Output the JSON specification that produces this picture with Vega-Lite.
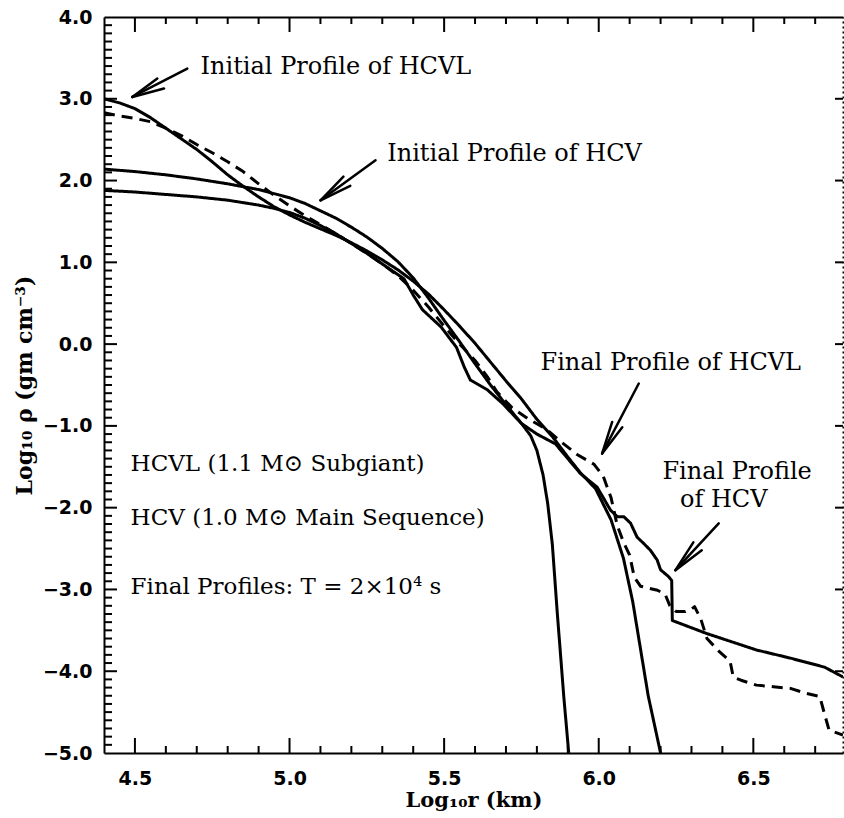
{
  "$schema": "https://vega.github.io/schema/vega-lite/v6.json",
  "width": 739,
  "height": 736,
  "autosize": {"type": "none"},
  "padding": {"left": 104, "top": 17, "right": 1, "bottom": 65},
  "background": "white",
  "config": {
    "view": {"stroke": null},
    "axis": {
      "grid": false,
      "domainColor": "black",
      "labelColor": "black",
      "titleColor": "black",
      "domainWidth": 2,
      "labelFlush": false,
      "labelOverlap": false,
      "labelBound": false
    }
  },
  "datasets": {
    "profiles": [
      {"s": "Initial HCVL", "x": 4.40, "y": 3.00},
      {"s": "Initial HCVL", "x": 4.45, "y": 2.95},
      {"s": "Initial HCVL", "x": 4.50, "y": 2.88},
      {"s": "Initial HCVL", "x": 4.55, "y": 2.77},
      {"s": "Initial HCVL", "x": 4.60, "y": 2.64},
      {"s": "Initial HCVL", "x": 4.65, "y": 2.51},
      {"s": "Initial HCVL", "x": 4.70, "y": 2.38},
      {"s": "Initial HCVL", "x": 4.75, "y": 2.23},
      {"s": "Initial HCVL", "x": 4.80, "y": 2.07},
      {"s": "Initial HCVL", "x": 4.85, "y": 1.93},
      {"s": "Initial HCVL", "x": 4.90, "y": 1.80},
      {"s": "Initial HCVL", "x": 4.95, "y": 1.68},
      {"s": "Initial HCVL", "x": 5.00, "y": 1.58},
      {"s": "Initial HCVL", "x": 5.05, "y": 1.49},
      {"s": "Initial HCVL", "x": 5.10, "y": 1.41},
      {"s": "Initial HCVL", "x": 5.15, "y": 1.33},
      {"s": "Initial HCVL", "x": 5.20, "y": 1.24},
      {"s": "Initial HCVL", "x": 5.25, "y": 1.14},
      {"s": "Initial HCVL", "x": 5.30, "y": 1.03},
      {"s": "Initial HCVL", "x": 5.35, "y": 0.91},
      {"s": "Initial HCVL", "x": 5.40, "y": 0.77},
      {"s": "Initial HCVL", "x": 5.45, "y": 0.61},
      {"s": "Initial HCVL", "x": 5.50, "y": 0.42},
      {"s": "Initial HCVL", "x": 5.55, "y": 0.22},
      {"s": "Initial HCVL", "x": 5.60, "y": 0.01},
      {"s": "Initial HCVL", "x": 5.65, "y": -0.22},
      {"s": "Initial HCVL", "x": 5.70, "y": -0.45},
      {"s": "Initial HCVL", "x": 5.75, "y": -0.67},
      {"s": "Initial HCVL", "x": 5.80, "y": -0.92},
      {"s": "Initial HCVL", "x": 5.85, "y": -1.13},
      {"s": "Initial HCVL", "x": 5.90, "y": -1.38},
      {"s": "Initial HCVL", "x": 5.94, "y": -1.57},
      {"s": "Initial HCVL", "x": 5.99, "y": -1.77},
      {"s": "Initial HCVL", "x": 6.04, "y": -2.15},
      {"s": "Initial HCVL", "x": 6.08, "y": -2.62},
      {"s": "Initial HCVL", "x": 6.11, "y": -3.15},
      {"s": "Initial HCVL", "x": 6.16, "y": -4.30},
      {"s": "Initial HCVL", "x": 6.20, "y": -5.00},

      {"s": "Initial HCV", "x": 4.40, "y": 2.14},
      {"s": "Initial HCV", "x": 4.50, "y": 2.11},
      {"s": "Initial HCV", "x": 4.60, "y": 2.07},
      {"s": "Initial HCV", "x": 4.70, "y": 2.02},
      {"s": "Initial HCV", "x": 4.80, "y": 1.96},
      {"s": "Initial HCV", "x": 4.90, "y": 1.89},
      {"s": "Initial HCV", "x": 4.95, "y": 1.84},
      {"s": "Initial HCV", "x": 5.00, "y": 1.79},
      {"s": "Initial HCV", "x": 5.05, "y": 1.72},
      {"s": "Initial HCV", "x": 5.10, "y": 1.63},
      {"s": "Initial HCV", "x": 5.15, "y": 1.54},
      {"s": "Initial HCV", "x": 5.20, "y": 1.43},
      {"s": "Initial HCV", "x": 5.25, "y": 1.31},
      {"s": "Initial HCV", "x": 5.30, "y": 1.17},
      {"s": "Initial HCV", "x": 5.35, "y": 1.01},
      {"s": "Initial HCV", "x": 5.40, "y": 0.81},
      {"s": "Initial HCV", "x": 5.45, "y": 0.56},
      {"s": "Initial HCV", "x": 5.50, "y": 0.29},
      {"s": "Initial HCV", "x": 5.55, "y": 0.03},
      {"s": "Initial HCV", "x": 5.60, "y": -0.24},
      {"s": "Initial HCV", "x": 5.65, "y": -0.50},
      {"s": "Initial HCV", "x": 5.70, "y": -0.74},
      {"s": "Initial HCV", "x": 5.75, "y": -0.97},
      {"s": "Initial HCV", "x": 5.78, "y": -1.12},
      {"s": "Initial HCV", "x": 5.80, "y": -1.30},
      {"s": "Initial HCV", "x": 5.82, "y": -1.60},
      {"s": "Initial HCV", "x": 5.835, "y": -1.95},
      {"s": "Initial HCV", "x": 5.85, "y": -2.45},
      {"s": "Initial HCV", "x": 5.866, "y": -3.29},
      {"s": "Initial HCV", "x": 5.887, "y": -4.31},
      {"s": "Initial HCV", "x": 5.903, "y": -5.00},

      {"s": "Final HCVL", "x": 4.40, "y": 2.83},
      {"s": "Final HCVL", "x": 4.45, "y": 2.79},
      {"s": "Final HCVL", "x": 4.50, "y": 2.76},
      {"s": "Final HCVL", "x": 4.55, "y": 2.72},
      {"s": "Final HCVL", "x": 4.60, "y": 2.64},
      {"s": "Final HCVL", "x": 4.65, "y": 2.55},
      {"s": "Final HCVL", "x": 4.70, "y": 2.44},
      {"s": "Final HCVL", "x": 4.75, "y": 2.34},
      {"s": "Final HCVL", "x": 4.80, "y": 2.23},
      {"s": "Final HCVL", "x": 4.85, "y": 2.11},
      {"s": "Final HCVL", "x": 4.90, "y": 1.96},
      {"s": "Final HCVL", "x": 4.95, "y": 1.82},
      {"s": "Final HCVL", "x": 5.00, "y": 1.69},
      {"s": "Final HCVL", "x": 5.05, "y": 1.57},
      {"s": "Final HCVL", "x": 5.10, "y": 1.46},
      {"s": "Final HCVL", "x": 5.15, "y": 1.35},
      {"s": "Final HCVL", "x": 5.20, "y": 1.23},
      {"s": "Final HCVL", "x": 5.25, "y": 1.11},
      {"s": "Final HCVL", "x": 5.30, "y": 0.98},
      {"s": "Final HCVL", "x": 5.35, "y": 0.84},
      {"s": "Final HCVL", "x": 5.40, "y": 0.66},
      {"s": "Final HCVL", "x": 5.45, "y": 0.45},
      {"s": "Final HCVL", "x": 5.50, "y": 0.22},
      {"s": "Final HCVL", "x": 5.55, "y": 0.00},
      {"s": "Final HCVL", "x": 5.60, "y": -0.20},
      {"s": "Final HCVL", "x": 5.64, "y": -0.40},
      {"s": "Final HCVL", "x": 5.67, "y": -0.58},
      {"s": "Final HCVL", "x": 5.72, "y": -0.78},
      {"s": "Final HCVL", "x": 5.77, "y": -0.91},
      {"s": "Final HCVL", "x": 5.83, "y": -1.04},
      {"s": "Final HCVL", "x": 5.88, "y": -1.20},
      {"s": "Final HCVL", "x": 5.93, "y": -1.35},
      {"s": "Final HCVL", "x": 5.985, "y": -1.47},
      {"s": "Final HCVL", "x": 6.015, "y": -1.62},
      {"s": "Final HCVL", "x": 6.04, "y": -1.88},
      {"s": "Final HCVL", "x": 6.06, "y": -2.22},
      {"s": "Final HCVL", "x": 6.08, "y": -2.42},
      {"s": "Final HCVL", "x": 6.10, "y": -2.58},
      {"s": "Final HCVL", "x": 6.115, "y": -2.85},
      {"s": "Final HCVL", "x": 6.135, "y": -2.96},
      {"s": "Final HCVL", "x": 6.157, "y": -2.98},
      {"s": "Final HCVL", "x": 6.19, "y": -3.01},
      {"s": "Final HCVL", "x": 6.215, "y": -3.06},
      {"s": "Final HCVL", "x": 6.23, "y": -3.20},
      {"s": "Final HCVL", "x": 6.25, "y": -3.27},
      {"s": "Final HCVL", "x": 6.28, "y": -3.27},
      {"s": "Final HCVL", "x": 6.30, "y": -3.24},
      {"s": "Final HCVL", "x": 6.31, "y": -3.21},
      {"s": "Final HCVL", "x": 6.33, "y": -3.36},
      {"s": "Final HCVL", "x": 6.35, "y": -3.60},
      {"s": "Final HCVL", "x": 6.39, "y": -3.76},
      {"s": "Final HCVL", "x": 6.425, "y": -3.88},
      {"s": "Final HCVL", "x": 6.435, "y": -4.07},
      {"s": "Final HCVL", "x": 6.46, "y": -4.11},
      {"s": "Final HCVL", "x": 6.51, "y": -4.17},
      {"s": "Final HCVL", "x": 6.565, "y": -4.19},
      {"s": "Final HCVL", "x": 6.62, "y": -4.21},
      {"s": "Final HCVL", "x": 6.67, "y": -4.27},
      {"s": "Final HCVL", "x": 6.715, "y": -4.31},
      {"s": "Final HCVL", "x": 6.73, "y": -4.52},
      {"s": "Final HCVL", "x": 6.745, "y": -4.72},
      {"s": "Final HCVL", "x": 6.79, "y": -4.78},

      {"s": "Final HCV", "x": 4.40, "y": 1.88},
      {"s": "Final HCV", "x": 4.50, "y": 1.86},
      {"s": "Final HCV", "x": 4.60, "y": 1.83},
      {"s": "Final HCV", "x": 4.70, "y": 1.80},
      {"s": "Final HCV", "x": 4.80, "y": 1.76},
      {"s": "Final HCV", "x": 4.90, "y": 1.70},
      {"s": "Final HCV", "x": 4.95, "y": 1.66},
      {"s": "Final HCV", "x": 5.00, "y": 1.61},
      {"s": "Final HCV", "x": 5.05, "y": 1.54},
      {"s": "Final HCV", "x": 5.10, "y": 1.45},
      {"s": "Final HCV", "x": 5.15, "y": 1.35},
      {"s": "Final HCV", "x": 5.20, "y": 1.23},
      {"s": "Final HCV", "x": 5.25, "y": 1.11},
      {"s": "Final HCV", "x": 5.30, "y": 0.98},
      {"s": "Final HCV", "x": 5.37, "y": 0.80},
      {"s": "Final HCV", "x": 5.40, "y": 0.60},
      {"s": "Final HCV", "x": 5.43, "y": 0.42},
      {"s": "Final HCV", "x": 5.49, "y": 0.21},
      {"s": "Final HCV", "x": 5.54, "y": -0.04},
      {"s": "Final HCV", "x": 5.565, "y": -0.28},
      {"s": "Final HCV", "x": 5.585, "y": -0.44},
      {"s": "Final HCV", "x": 5.64, "y": -0.56},
      {"s": "Final HCV", "x": 5.69, "y": -0.73},
      {"s": "Final HCV", "x": 5.75, "y": -0.97},
      {"s": "Final HCV", "x": 5.80, "y": -1.10},
      {"s": "Final HCV", "x": 5.86, "y": -1.22},
      {"s": "Final HCV", "x": 5.90, "y": -1.40},
      {"s": "Final HCV", "x": 5.94, "y": -1.58},
      {"s": "Final HCV", "x": 5.995, "y": -1.75},
      {"s": "Final HCV", "x": 6.038, "y": -2.03},
      {"s": "Final HCV", "x": 6.06, "y": -2.11},
      {"s": "Final HCV", "x": 6.081, "y": -2.11},
      {"s": "Final HCV", "x": 6.103, "y": -2.19},
      {"s": "Final HCV", "x": 6.124, "y": -2.36},
      {"s": "Final HCV", "x": 6.146, "y": -2.44},
      {"s": "Final HCV", "x": 6.167, "y": -2.52},
      {"s": "Final HCV", "x": 6.189, "y": -2.64},
      {"s": "Final HCV", "x": 6.20, "y": -2.76},
      {"s": "Final HCV", "x": 6.225, "y": -2.84},
      {"s": "Final HCV", "x": 6.236, "y": -2.89},
      {"s": "Final HCV", "x": 6.238, "y": -3.38},
      {"s": "Final HCV", "x": 6.35, "y": -3.54},
      {"s": "Final HCV", "x": 6.51, "y": -3.74},
      {"s": "Final HCV", "x": 6.62, "y": -3.84},
      {"s": "Final HCV", "x": 6.73, "y": -3.95},
      {"s": "Final HCV", "x": 6.76, "y": -4.01},
      {"s": "Final HCV", "x": 6.79, "y": -4.07}
    ],
    "shafts": [
      {"x": 4.4916, "y": 3.022, "x2": 4.6694, "y2": 3.369},
      {"x": 5.1004, "y": 1.759, "x2": 5.2782, "y2": 2.248},
      {"x": 6.0111, "y": -1.337, "x2": 6.1295, "y2": -0.482},
      {"x": 6.2481, "y": -2.764, "x2": 6.3881, "y2": -2.193}
    ],
    "heads": [
      {"x": 4.4916, "y": 3.022, "x2": 4.5724, "y2": 3.247},
      {"x": 4.4916, "y": 3.022, "x2": 4.5938, "y2": 3.125},
      {"x": 5.1004, "y": 1.759, "x2": 5.1964, "y2": 1.936},
      {"x": 5.1004, "y": 1.759, "x2": 5.1744, "y2": 2.049},
      {"x": 6.0111, "y": -1.337, "x2": 6.0762, "y2": -1.018},
      {"x": 6.0111, "y": -1.337, "x2": 6.0435, "y2": -0.952},
      {"x": 6.2481, "y": -2.764, "x2": 6.3332, "y2": -2.521},
      {"x": 6.2481, "y": -2.764, "x2": 6.3060, "y2": -2.425}
    ],
    "labels": [
      {"t": "Initial Profile of HCVL", "x": 4.7124, "y": 3.385},
      {"t": "Initial Profile of HCV", "x": 5.316, "y": 2.33},
      {"t": "Final Profile of HCVL", "x": 5.8117, "y": -0.237}
    ],
    "notes": [
      {"t": "HCVL (1.1 M⊙ Subgiant)", "x": 4.486, "y": -1.46},
      {"t": "HCV (1.0 M⊙ Main Sequence)", "x": 4.486, "y": -2.128},
      {"t": "Final Profiles: T = 2×10⁴ s", "x": 4.486, "y": -2.968}
    ],
    "hcv": [
      {"t": "Final Profile", "x": 6.4476, "y": -1.562},
      {"t": "of HCV", "x": 6.4044, "y": -1.908}
    ],
    "xmajor": [{"v": 4.5}, {"v": 5.0}, {"v": 5.5}, {"v": 6.0}, {"v": 6.5}],
    "xminor": [
      {"v": 4.6}, {"v": 4.7}, {"v": 4.8}, {"v": 4.9}, {"v": 5.1}, {"v": 5.2}, {"v": 5.3}, {"v": 5.4}, {"v": 5.6},
      {"v": 5.7}, {"v": 5.8}, {"v": 5.9}, {"v": 6.1}, {"v": 6.2}, {"v": 6.3}, {"v": 6.4}, {"v": 6.6}, {"v": 6.7}
    ],
    "ymajor": [{"v": -4}, {"v": -3}, {"v": -2}, {"v": -1}, {"v": 0}, {"v": 1}, {"v": 2}, {"v": 3}],
    "yminor": [
      {"v": -4.9}, {"v": -4.8}, {"v": -4.7}, {"v": -4.6}, {"v": -4.5}, {"v": -4.4}, {"v": -4.3}, {"v": -4.2}, {"v": -4.1},
      {"v": -3.9}, {"v": -3.8}, {"v": -3.7}, {"v": -3.6}, {"v": -3.5}, {"v": -3.4}, {"v": -3.3}, {"v": -3.2}, {"v": -3.1},
      {"v": -2.9}, {"v": -2.8}, {"v": -2.7}, {"v": -2.6}, {"v": -2.5}, {"v": -2.4}, {"v": -2.3}, {"v": -2.2}, {"v": -2.1},
      {"v": -1.9}, {"v": -1.8}, {"v": -1.7}, {"v": -1.6}, {"v": -1.5}, {"v": -1.4}, {"v": -1.3}, {"v": -1.2}, {"v": -1.1},
      {"v": -0.9}, {"v": -0.8}, {"v": -0.7}, {"v": -0.6}, {"v": -0.5}, {"v": -0.4}, {"v": -0.3}, {"v": -0.2}, {"v": -0.1},
      {"v": 0.1}, {"v": 0.2}, {"v": 0.3}, {"v": 0.4}, {"v": 0.5}, {"v": 0.6}, {"v": 0.7}, {"v": 0.8}, {"v": 0.9},
      {"v": 1.1}, {"v": 1.2}, {"v": 1.3}, {"v": 1.4}, {"v": 1.5}, {"v": 1.6}, {"v": 1.7}, {"v": 1.8}, {"v": 1.9},
      {"v": 2.1}, {"v": 2.2}, {"v": 2.3}, {"v": 2.4}, {"v": 2.5}, {"v": 2.6}, {"v": 2.7}, {"v": 2.8}, {"v": 2.9},
      {"v": 3.1}, {"v": 3.2}, {"v": 3.3}, {"v": 3.4}, {"v": 3.5}, {"v": 3.6}, {"v": 3.7}, {"v": 3.8}, {"v": 3.9}
    ]
  },
  "resolve": {"axis": {"x": "independent", "y": "independent"}},
  "layer": [
    {
      "data": {"name": "profiles"},
      "mark": {"type": "line", "color": "black", "strokeCap": "butt", "strokeJoin": "round", "clip": true},
      "encoding": {
        "x": {
          "field": "x", "type": "quantitative",
          "scale": {"domain": [4.4, 6.79], "nice": false, "zero": false},
          "axis": {
            "orient": "bottom", "values": [4.5, 5, 5.5, 6, 6.5], "format": ".1f",
            "ticks": false, "labelPadding": 16,
            "labelFont": "DejaVu Sans", "labelFontWeight": "bold", "labelFontSize": 19,
            "title": "Log₁₀r (km)", "titleFont": "DejaVu Serif", "titleFontWeight": "bold",
            "titleFontSize": 21, "titlePadding": 1
          }
        },
        "y": {
          "field": "y", "type": "quantitative",
          "scale": {"domain": [-5, 4], "nice": false, "zero": false},
          "axis": {
            "orient": "left", "values": [-5, -4, -3, -2, -1, 0, 1, 2, 3, 4], "format": ".1f",
            "ticks": false, "labelPadding": 12,
            "labelFont": "DejaVu Sans", "labelFontWeight": "bold", "labelFontSize": 19,
            "title": "Log₁₀ ρ (gm cm⁻³)", "titleFont": "DejaVu Serif", "titleFontWeight": "bold",
            "titleFontSize": 22, "titlePadding": 6
          }
        },
        "strokeDash": {
          "field": "s", "type": "nominal",
          "scale": {"domain": ["Initial HCVL", "Initial HCV", "Final HCVL", "Final HCV"], "range": [[1, 0], [1, 0], [11, 7], [1, 0]]},
          "legend": null
        },
        "strokeWidth": {
          "field": "s", "type": "ordinal",
          "scale": {"domain": ["Initial HCVL", "Initial HCV", "Final HCVL", "Final HCV"], "range": [3, 3, 2.5, 2]},
          "legend": null
        }
      }
    },
    {
      "data": {"name": "shafts"},
      "mark": {"type": "rule", "color": "black", "strokeWidth": 2.5, "strokeCap": "round"},
      "encoding": {
        "x": {
          "field": "x", "type": "quantitative",
          "scale": {"domain": [4.4, 6.79], "nice": false, "zero": false},
          "axis": {"orient": "top", "ticks": false, "labels": false, "domain": true, "title": null}
        },
        "y": {
          "field": "y", "type": "quantitative",
          "scale": {"domain": [-5, 4], "nice": false, "zero": false},
          "axis": {"orient": "right", "ticks": false, "labels": false, "domain": true, "domainDash": [2, 3], "title": null}
        },
        "x2": {"field": "x2"},
        "y2": {"field": "y2"}
      }
    },
    {
      "data": {"name": "heads"},
      "mark": {"type": "rule", "color": "black", "strokeWidth": 2.5, "strokeCap": "round"},
      "encoding": {
        "x": {"field": "x", "type": "quantitative", "scale": {"domain": [4.4, 6.79], "nice": false, "zero": false}, "axis": null},
        "y": {"field": "y", "type": "quantitative", "scale": {"domain": [-5, 4], "nice": false, "zero": false}, "axis": null},
        "x2": {"field": "x2"},
        "y2": {"field": "y2"}
      }
    },
    {
      "data": {"name": "labels"},
      "mark": {"type": "text", "align": "left", "baseline": "middle", "font": "DejaVu Serif", "fontSize": 24, "color": "black"},
      "encoding": {
        "x": {"field": "x", "type": "quantitative", "scale": {"domain": [4.4, 6.79], "nice": false, "zero": false}, "axis": null},
        "y": {"field": "y", "type": "quantitative", "scale": {"domain": [-5, 4], "nice": false, "zero": false}, "axis": null},
        "text": {"field": "t"}
      }
    },
    {
      "data": {"name": "hcv"},
      "mark": {"type": "text", "align": "center", "baseline": "middle", "font": "DejaVu Serif", "fontSize": 24, "color": "black"},
      "encoding": {
        "x": {"field": "x", "type": "quantitative", "scale": {"domain": [4.4, 6.79], "nice": false, "zero": false}, "axis": null},
        "y": {"field": "y", "type": "quantitative", "scale": {"domain": [-5, 4], "nice": false, "zero": false}, "axis": null},
        "text": {"field": "t"}
      }
    },
    {
      "data": {"name": "notes"},
      "mark": {"type": "text", "align": "left", "baseline": "middle", "font": "DejaVu Serif", "fontSize": 23, "color": "black"},
      "encoding": {
        "x": {"field": "x", "type": "quantitative", "scale": {"domain": [4.4, 6.79], "nice": false, "zero": false}, "axis": null},
        "y": {"field": "y", "type": "quantitative", "scale": {"domain": [-5, 4], "nice": false, "zero": false}, "axis": null},
        "text": {"field": "t"}
      }
    },
    {
      "data": {"name": "xmajor"},
      "mark": {"type": "rule", "color": "black", "strokeWidth": 2},
      "encoding": {
        "x": {"field": "v", "type": "quantitative", "scale": {"domain": [4.4, 6.79], "nice": false, "zero": false}, "axis": null},
        "y": {"datum": -5, "type": "quantitative", "scale": {"domain": [-5, 4], "nice": false, "zero": false}, "axis": null},
        "y2": {"datum": -4.8166}
      }
    },
    {
      "data": {"name": "xmajor"},
      "mark": {"type": "rule", "color": "black", "strokeWidth": 2},
      "encoding": {
        "x": {"field": "v", "type": "quantitative", "scale": {"domain": [4.4, 6.79], "nice": false, "zero": false}, "axis": null},
        "y": {"datum": 4, "type": "quantitative", "scale": {"domain": [-5, 4], "nice": false, "zero": false}, "axis": null},
        "y2": {"datum": 3.8166}
      }
    },
    {
      "data": {"name": "xminor"},
      "mark": {"type": "rule", "color": "black", "strokeWidth": 2},
      "encoding": {
        "x": {"field": "v", "type": "quantitative", "scale": {"domain": [4.4, 6.79], "nice": false, "zero": false}, "axis": null},
        "y": {"datum": -5, "type": "quantitative", "scale": {"domain": [-5, 4], "nice": false, "zero": false}, "axis": null},
        "y2": {"datum": -4.9144}
      }
    },
    {
      "data": {"name": "xminor"},
      "mark": {"type": "rule", "color": "black", "strokeWidth": 2},
      "encoding": {
        "x": {"field": "v", "type": "quantitative", "scale": {"domain": [4.4, 6.79], "nice": false, "zero": false}, "axis": null},
        "y": {"datum": 4, "type": "quantitative", "scale": {"domain": [-5, 4], "nice": false, "zero": false}, "axis": null},
        "y2": {"datum": 3.9144}
      }
    },
    {
      "data": {"name": "ymajor"},
      "mark": {"type": "rule", "color": "black", "strokeWidth": 2},
      "encoding": {
        "x": {"datum": 4.4, "type": "quantitative", "scale": {"domain": [4.4, 6.79], "nice": false, "zero": false}, "axis": null},
        "x2": {"datum": 4.442},
        "y": {"field": "v", "type": "quantitative", "scale": {"domain": [-5, 4], "nice": false, "zero": false}, "axis": null}
      }
    },
    {
      "data": {"name": "ymajor"},
      "mark": {"type": "rule", "color": "black", "strokeWidth": 2},
      "encoding": {
        "x": {"datum": 6.79, "type": "quantitative", "scale": {"domain": [4.4, 6.79], "nice": false, "zero": false}, "axis": null},
        "x2": {"datum": 6.7641},
        "y": {"field": "v", "type": "quantitative", "scale": {"domain": [-5, 4], "nice": false, "zero": false}, "axis": null}
      }
    },
    {
      "data": {"name": "yminor"},
      "mark": {"type": "rule", "color": "black", "strokeWidth": 2},
      "encoding": {
        "x": {"datum": 4.4, "type": "quantitative", "scale": {"domain": [4.4, 6.79], "nice": false, "zero": false}, "axis": null},
        "x2": {"datum": 4.4259},
        "y": {"field": "v", "type": "quantitative", "scale": {"domain": [-5, 4], "nice": false, "zero": false}, "axis": null}
      }
    }
  ]
}
